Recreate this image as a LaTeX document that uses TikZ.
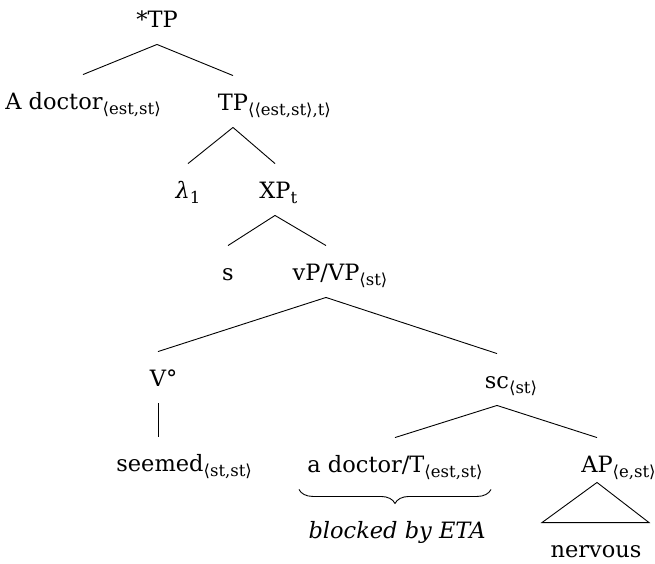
\documentclass[tikz,border=0pt]{standalone}
\usepackage{fontspec}
\setmainfont{DejaVu Serif}
\newfontfamily\brkfont{DejaVu Sans}
\usepackage{tikz}
\usetikzlibrary{decorations.pathreplacing}

\tikzset{lab/.style={anchor=base,inner xsep=0pt,inner ysep=8pt,text height=26pt,text depth=9pt}}
\newcommand{\typ}[1]{\raisebox{-5pt}{\fontsize{16.5}{16.5}\selectfont #1}}
\newcommand{\la}{{\brkfont ⟨}}
\newcommand{\ra}{{\brkfont ⟩}}

\begin{document}
\begin{tikzpicture}[x=1pt,y=-1pt,line width=0.9pt,font=\fontsize{22.5}{26}\selectfont]
\useasboundingbox (0,0) rectangle (655,563);

\node at (157,27) [lab] (root) {*TP};

\node at (83,109) [lab] (adoc) {A doctor\typ{\la est,st\ra}};
\node at (233,110) [lab] (tp) {TP\rlap{\typ{\la\la est,st\ra,t\ra}}};

\node at (188,198) [lab] (lam) {\textit{λ}\typ{1}};
\node at (275,198) [lab] (xp) {XP\rlap{\typ{t}}};

\node at (228,280) [lab] (s) {s};
\node at (326,280) [lab] (vp) {vP/VP\rlap{\typ{\la st\ra}}};

\node at (158,386) [lab] (v) {V\rlap{°}};
\node at (497,388) [lab] (sc) {sc\rlap{\typ{\la st\ra}}};

\node at (160,471) [lab] (seemed) {seemed\rlap{\typ{\la st,st\ra}}};
\node at (395,472) [lab] (adt) {a doctor/T\typ{\la est,st\ra}};
\node at (597,472) [lab] (ap) {AP\rlap{\typ{\la e,st\ra}}};

\node at (397,538) [lab] (blk) {\itshape blocked by ETA};
\node at (596,557) [lab] (nerv) {nervous};

\draw (root.south) -- (adoc.north);
\draw (root.south) -- (tp.north);
\draw (tp.south) -- (lam.north);
\draw (tp.south) -- (xp.north);
\draw (xp.south) -- (s.north);
\draw (xp.south) -- (vp.north);
\draw (vp.south) -- (v.north);
\draw (vp.south) -- (sc.north);
\draw (v.south) -- (v.south |- seemed.north);
\draw (sc.south) -- (adt.north);
\draw (sc.south) -- (ap.north);

\draw ([yshift=7pt]ap.south) -- ([xshift=-54pt]nerv.north) -- ([xshift=53pt]nerv.north) -- cycle;
\draw [decorate,decoration={brace,mirror,amplitude=14pt}] ([xshift=-8pt]adt.south west) -- ([xshift=8pt]adt.south east);
\end{tikzpicture}
\end{document}
